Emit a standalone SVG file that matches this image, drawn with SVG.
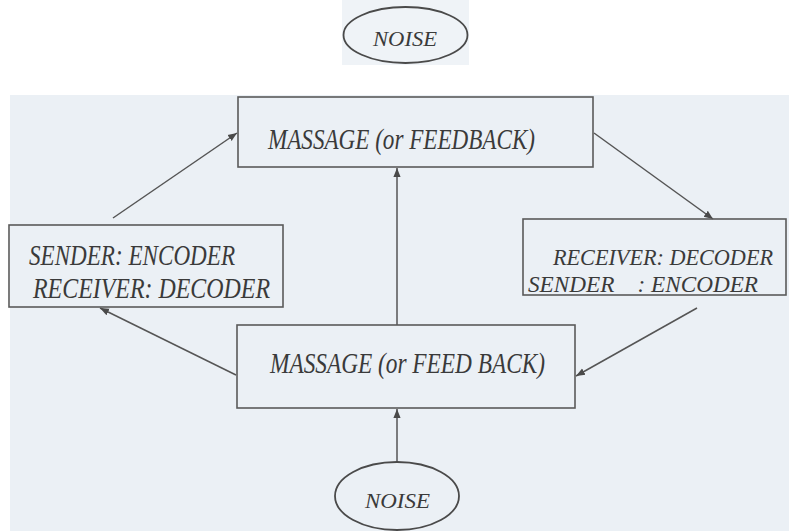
<svg xmlns="http://www.w3.org/2000/svg" width="789" height="531" viewBox="0 0 789 531">
  <defs>
    <marker id="ah" viewBox="0 0 10 10" refX="10" refY="5" markerWidth="9" markerHeight="9" markerUnits="userSpaceOnUse" orient="auto">
      <path d="M0,1 L10,5 L0,9 Z" fill="#4a4a4a"/>
    </marker>
    <style>
      .box { fill: none; stroke: #5a5a5a; stroke-width: 1.6; }
      .ell { fill: none; stroke: #4a4a4a; stroke-width: 1.8; }
      .lbl { font-family: "Liberation Serif", "Times New Roman", serif; font-style: italic; fill: #3a3a3a; font-size: 29px; }
      .lbl2 { font-family: "Liberation Serif", "Times New Roman", serif; font-style: italic; fill: #3a3a3a; font-size: 24px; }
      .noise { font-family: "Liberation Serif", "Times New Roman", serif; font-style: italic; fill: #3a3a3a; font-size: 22px; }
      .conn { stroke: #555; stroke-width: 1.5; fill: none; marker-end: url(#ah); }
    </style>
  </defs>
  <rect x="0" y="0" width="789" height="531" fill="#ffffff"/>
  <rect x="10" y="95" width="779" height="436" fill="#ebf0f5"/>
  <rect x="342" y="0" width="127" height="65" fill="#eff3f7"/>

  <g id="connectors">
    <line class="conn" x1="113" y1="218" x2="237" y2="133"/>
    <line class="conn" x1="594" y1="133" x2="713" y2="219"/>
    <line class="conn" x1="697" y1="308" x2="576" y2="376"/>
    <line class="conn" x1="236" y1="375" x2="100" y2="308"/>
    <line class="conn" x1="397" y1="325" x2="397" y2="168"/>
    <line class="conn" x1="397" y1="462" x2="397" y2="409"/>
  </g>

  <g id="noise-top">
    <ellipse class="ell" cx="405.5" cy="35" rx="62" ry="28"/>
    <text class="noise" x="373" y="46" textLength="64" lengthAdjust="spacingAndGlyphs">NOISE</text>
  </g>

  <g id="message-top">
    <rect class="box" x="238" y="97" width="355" height="70"/>
    <text class="lbl" x="268" y="149" textLength="267" lengthAdjust="spacingAndGlyphs">MASSAGE (or FEEDBACK)</text>
  </g>

  <g id="sender-left">
    <rect class="box" x="9" y="225" width="274" height="82"/>
    <text class="lbl" x="29" y="265" textLength="206" lengthAdjust="spacingAndGlyphs">SENDER: ENCODER</text>
    <text class="lbl" x="33" y="298" textLength="237" lengthAdjust="spacingAndGlyphs">RECEIVER: DECODER</text>
  </g>

  <g id="receiver-right">
    <rect class="box" x="523" y="219" width="263" height="76"/>
    <text class="lbl2" x="553" y="265" textLength="220" lengthAdjust="spacingAndGlyphs">RECEIVER: DECODER</text>
    <text class="lbl2" x="528" y="292" textLength="230" lengthAdjust="spacingAndGlyphs" xml:space="preserve">SENDER    : ENCODER</text>
  </g>

  <g id="message-bottom">
    <rect class="box" x="237" y="325" width="338" height="83"/>
    <text class="lbl" x="270" y="373" textLength="275" lengthAdjust="spacingAndGlyphs">MASSAGE (or FEED BACK)</text>
  </g>

  <g id="noise-bottom">
    <ellipse class="ell" cx="397" cy="496" rx="62" ry="34"/>
    <text class="noise" x="365" y="508" textLength="65" lengthAdjust="spacingAndGlyphs">NOISE</text>
  </g>
</svg>
